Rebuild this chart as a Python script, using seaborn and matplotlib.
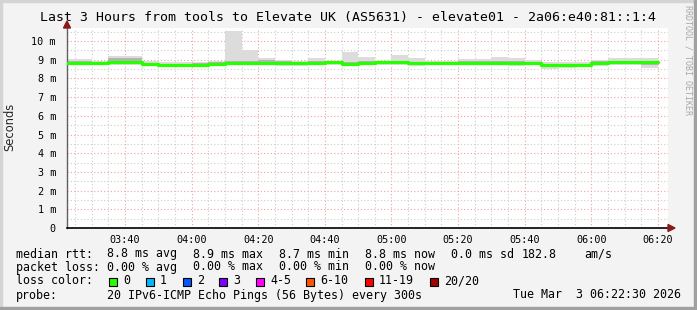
import matplotlib
matplotlib.use("Agg")
import matplotlib.pyplot as plt
import matplotlib.dates as mdates
from matplotlib.patches import Rectangle, Polygon
import numpy as np
import pandas as pd
import seaborn as sns

# ---------------- data ----------------
slot_start = ["03:20", "03:25", "03:30", "03:35", "03:40", "03:45", "03:50", "03:55",
              "04:00", "04:05", "04:10", "04:15", "04:20", "04:25", "04:30", "04:35",
              "04:40", "04:45", "04:50", "04:55", "05:00", "05:05", "05:10", "05:15",
              "05:20", "05:25", "05:30", "05:35", "05:40", "05:45", "05:50", "05:55",
              "06:00", "06:05", "06:10", "06:15"]
slot_end = "06:20"
median_ms = [8.84, 8.84, 8.81, 8.88, 8.88, 8.77, 8.72, 8.72, 8.74, 8.79, 8.84, 8.84,
             8.84, 8.84, 8.81, 8.81, 8.86, 8.77, 8.84, 8.90, 8.86, 8.81, 8.81, 8.81,
             8.82, 8.84, 8.84, 8.81, 8.84, 8.72, 8.72, 8.72, 8.81, 8.86, 8.86, 8.86]
max_ms = [9.02, 9.02, 8.95, 9.18, 9.18, 8.92, 8.90, 8.90, 8.90, 8.93, 10.53, 9.52,
          9.07, 8.98, 8.95, 9.07, 8.95, 9.43, 9.14, 8.93, 9.25, 9.07, 8.93, 8.93,
          9.04, 9.04, 9.14, 9.07, 9.00, 8.90, 8.86, 8.86, 9.00, 9.07, 9.07, 9.07]
min_ms = [8.75, 8.75, 8.72, 8.72, 8.72, 8.65, 8.61, 8.61, 8.65, 8.68, 8.70, 8.70,
          8.70, 8.66, 8.65, 8.70, 8.70, 8.68, 8.70, 8.72, 8.70, 8.68, 8.70, 8.70,
          8.70, 8.70, 8.70, 8.68, 8.70, 8.50, 8.57, 8.62, 8.68, 8.70, 8.70, 8.54]
dark_hi_ms = [8.92, 8.92, 8.88, 9.10, 9.10, 8.84, 8.80, 8.80, 8.82, 8.86, 8.92, 8.95,
              9.00, 8.92, 8.88, 8.92, 8.92, 8.90, 8.92, 8.95, 8.95, 8.90, 8.88, 8.88,
              8.92, 8.92, 8.95, 8.92, 8.90, 8.80, 8.80, 8.80, 8.92, 8.96, 8.96, 8.96]
dark_lo_ms = [8.80, 8.80, 8.77, 8.80, 8.80, 8.72, 8.67, 8.67, 8.70, 8.74, 8.78, 8.78,
              8.78, 8.76, 8.74, 8.76, 8.80, 8.72, 8.78, 8.84, 8.80, 8.76, 8.76, 8.76,
              8.77, 8.78, 8.78, 8.76, 8.78, 8.62, 8.65, 8.67, 8.76, 8.80, 8.80, 8.70]

y_ticks = [0, 1, 2, 3, 4, 5, 6, 7, 8, 9, 10]
y_tick_labels = ["0", "1 m", "2 m", "3 m", "4 m", "5 m", "6 m", "7 m", "8 m", "9 m", "10 m"]

title = "Last 3 Hours from tools to Elevate UK (AS5631) - elevate01 - 2a06:e40:81::1:4"
loss_labels = ["0", "1", "2", "3", "4-5", "6-10", "11-19", "20/20"]
loss_colors = ["#26ff00", "#00b8ff", "#0059ff", "#7e00ff", "#ff00ff", "#ff5500", "#ff0000", "#a10000"]

# ---------------- figure ----------------
sns.set_style("white")
plt.rcParams["font.family"] = ["DejaVu Sans Mono", "DejaVu Sans"]

W, H = 697, 310
fig = plt.figure(figsize=(W / 100, H / 100), dpi=100)
fig.patch.set_facecolor("#f3f3f3")

def fx(px):
    return px / W

def fy(py):
    return 1 - py / H

# 3D frame
fig.patches.append(Rectangle((0, fy(2)), 1, 2 / H, transform=fig.transFigure, color="#d4d4d4", zorder=0))
fig.patches.append(Rectangle((0, 0), 2 / W, 1, transform=fig.transFigure, color="#d4d4d4", zorder=0))
fig.patches.append(Rectangle((0, 0), 1, 3 / H, transform=fig.transFigure, color="#a0a0a0", zorder=0))
fig.patches.append(Rectangle((1 - 3 / W, 0), 3 / W, 1, transform=fig.transFigure, color="#a0a0a0", zorder=0))

L, R, T, B = 67, 668, 28, 228
ax = fig.add_axes([fx(L), fy(B), (R - L) / W, (B - T) / H])
ax.set_facecolor("white")

day = "2026-03-03 "
t = pd.to_datetime([day + s for s in slot_start])
t_end = pd.to_datetime(day + slot_end)
tt = t.append(pd.DatetimeIndex([t_end]))

def ext(v):
    return list(v) + [v[-1]]

df = pd.DataFrame({"time": tt, "median": ext(median_ms)})

ax.fill_between(tt, ext(min_ms), ext(max_ms), step="post", color="#dcdcdc", lw=0, zorder=2)
ax.fill_between(tt, ext(dark_lo_ms), ext(dark_hi_ms), step="post", color="#b4b4b4", lw=0, zorder=2.5)
sns.lineplot(data=df, x="time", y="median", drawstyle="steps-post", color="#26ff00",
             linewidth=2.3, ax=ax, zorder=3)

ax.set_xlim(pd.to_datetime(day + "03:22:36"), pd.to_datetime(day + "06:23:00"))
ax.set_ylim(0, 10.7)
ax.xaxis.set_major_locator(mdates.MinuteLocator(byminute=[0, 20, 40]))
ax.xaxis.set_minor_locator(mdates.MinuteLocator(byminute=range(0, 60, 5)))
ax.xaxis.set_major_formatter(mdates.DateFormatter("%H:%M"))
ax.set_yticks(y_ticks)
ax.set_yticklabels(y_tick_labels)
ax.set_yticks(np.arange(0.5, 10.7, 1.0), minor=True)

ax.grid(which="minor", color="#cccccc", linestyle=(0, (1, 2)), linewidth=0.8)
ax.grid(which="major", color="#f4a0a0", linestyle=(0, (1, 2)), linewidth=0.8)
ax.set_axisbelow(True)
ax.set_xlabel("")
ax.set_ylabel("")

for s in ["top", "right"]:
    ax.spines[s].set_visible(False)
ax.spines["left"].set_color("#606060")
ax.spines["left"].set_linewidth(1.0)
ax.spines["bottom"].set_color("black")
ax.spines["bottom"].set_linewidth(1.2)

ax.tick_params(axis="x", which="both", length=0, pad=5, labelsize=7.3, colors="black")
ax.tick_params(axis="y", which="major", length=2, pad=6, labelsize=7.3, colors="black")
ax.tick_params(axis="y", which="minor", length=0)
ax.tick_params(axis="y", which="major", color="#606060")

# axis arrows
fig.patches.append(Polygon([[fx(63.5), fy(28)], [fx(70.5), fy(28)], [fx(67), fy(21)]],
                           closed=True, transform=fig.transFigure, color="#8b1a1a", zorder=5))
fig.patches.append(Polygon([[fx(668), fy(224.5)], [fx(668), fy(231.5)], [fx(675), fy(228)]],
                           closed=True, transform=fig.transFigure, color="#8b1a1a", zorder=5))

# texts
fig.text(fx(348), fy(18), title, ha="center", va="center", fontsize=9.55, color="black")
fig.text(fx(10), fy(127), "Seconds", rotation=90, ha="center", va="center",
         fontsize=8.3, family=["DejaVu Sans"])
fig.text(fx(688), fy(60), "RRDTOOL / TOBI OETIKER", rotation=270, ha="center", va="center",
         fontsize=6.0, color="#a8a8a8")

FS = 8.4
def txt(x, y, s):
    fig.text(fx(x), fy(y), s, ha="left", va="center", fontsize=FS, color="black")

txt(16, 254, "median rtt:")
txt(107, 254, "8.8 ms avg")
txt(193, 254, "8.9 ms max")
txt(279, 254, "8.7 ms min")
txt(365, 254, "8.8 ms now")
txt(451, 254, "0.0 ms sd")
txt(522, 254, "182.8")
txt(584, 254, "am/s")

txt(16, 267, "packet loss:")
txt(107, 267, "0.00 % avg")
txt(193, 267, "0.00 % max")
txt(279, 267, "0.00 % min")
txt(365, 267, "0.00 % now")

txt(16, 281, "loss color:")
box_x = [109, 146, 183, 219, 256, 306, 365, 430]
lab_x = [123, 160, 197, 233, 270, 320, 379, 444]
for bx, lx, lab, col in zip(box_x, lab_x, loss_labels, loss_colors):
    fig.patches.append(Rectangle((fx(bx), fy(286)), 8 / W, 8 / H, transform=fig.transFigure,
                                 facecolor=col, edgecolor="black", linewidth=0.8, zorder=5))
    txt(lx, 281, lab)

txt(16, 295, "probe:")
txt(107, 295, "20 IPv6-ICMP Echo Pings (56 Bytes) every 300s")
txt(513, 295, "Tue Mar  3 06:22:30 2026")

fig.savefig("out.png", dpi=100, facecolor=fig.get_facecolor())
